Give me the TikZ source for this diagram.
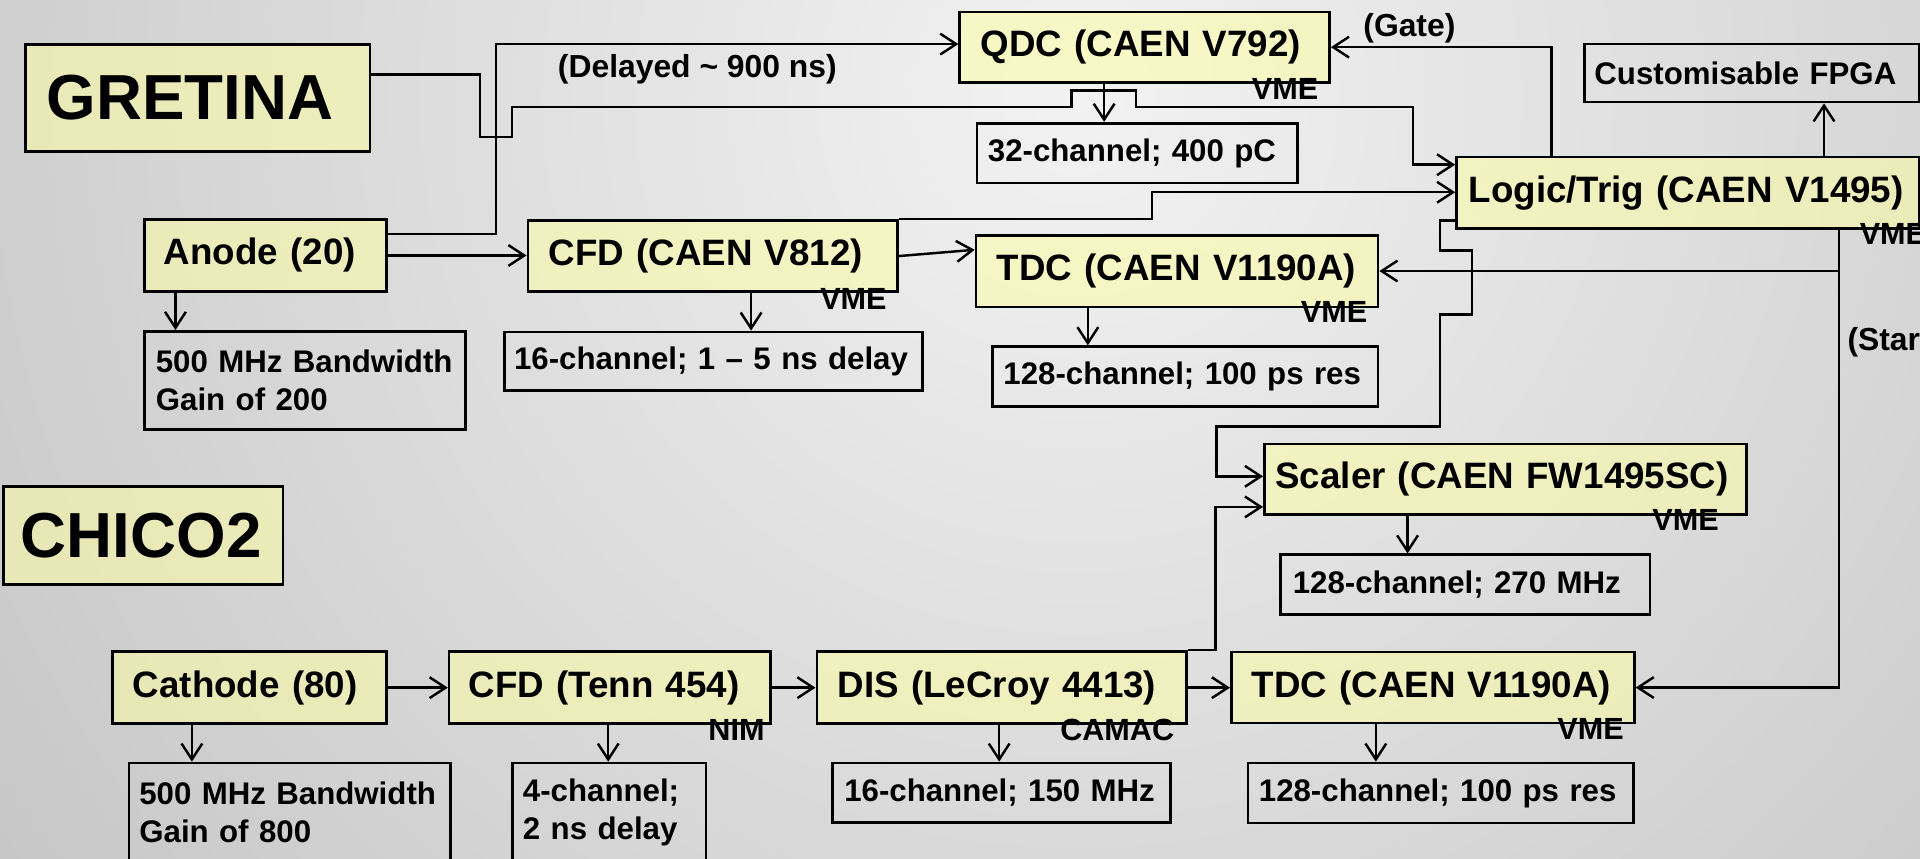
\documentclass[tikz,border=0pt]{standalone}
\usepackage{fontspec}
\setmainfont{Liberation Sans}
\usetikzlibrary{arrows.meta,calc}
\definecolor{bgin}{RGB}{242,242,242}
\definecolor{bgout}{RGB}{166,166,166}
\definecolor{boxfill}{RGB}{255,255,165}
\tikzset{
  mainbox/.style={draw, line width=2.2pt, fill=boxfill, fill opacity=0.55, text opacity=1,
    anchor=north west, align=left, font=\fontsize{30}{36}\selectfont\bfseries, inner ysep=0pt},
  bigbox/.style={mainbox, font=\fontsize{52}{60}\selectfont\bfseries},
  infobox/.style={draw, line width=2.2pt, anchor=north west, align=left,
    font=\fontsize{25.5}{30.8}\selectfont\bfseries, inner ysep=0pt},
  tag/.style={font=\fontsize{25}{30}\selectfont\bfseries, inner sep=0pt},
  note/.style={font=\fontsize{26}{30}\selectfont\bfseries, inner sep=0pt},
  wire/.style={line width=2pt, -{Straight Barb[length=13pt,width=17pt]}},
}
\begin{document}
\begin{tikzpicture}[x=1pt,y=-1pt]
\useasboundingbox (0,0) rectangle (1568,701);
\begin{scope}
\clip (0,0) rectangle (1568,701);
\shade[inner color=bgin, outer color=bgout] (880,80) circle[radius=1900pt];
\end{scope}

% main boxes
\node[bigbox, minimum height=87.5pt, inner xsep=17pt, text width=247pt] (gretina) at (20,35) {GRETINA};
\node[bigbox, minimum height=80pt, inner xsep=14pt, text width=200pt] (chico) at (2,396) {CHICO2};
\node[mainbox, minimum height=58.5pt, inner xsep=16pt, text width=165.6pt] (anode) at (116.7,178.3) {Anode (20)};
\node[mainbox, minimum height=58pt, inner xsep=17pt, text width=268pt] (cfdA) at (430,179) {CFD (CAEN V812)};
\node[mainbox, minimum height=58.5pt, inner xsep=17pt, text width=294.3pt] (tdcA) at (796,191) {TDC (CAEN V1190A)};
\node[mainbox, minimum height=57.4pt, inner xsep=17pt, text width=268pt] (qdc) at (782.7,8.7) {QDC (CAEN V792)};
\node[mainbox, minimum height=58.5pt, inner xsep=10pt, text width=357.6pt] (logic) at (1188.4,127) {Logic/Trig (CAEN V1495)};
\node[mainbox, minimum height=57.5pt, inner xsep=9pt, text width=375.8pt] (scaler) at (1031.5,361.5) {Scaler (CAEN FW1495SC)};
\node[mainbox, minimum height=59pt, inner xsep=16.7pt, text width=190.2pt] (cathode) at (90.7,531) {Cathode (80)};
\node[mainbox, minimum height=59pt, inner xsep=16pt, text width=230.3pt] (cfdB) at (365.7,531) {CFD (Tenn 454)};
\node[mainbox, minimum height=59pt, inner xsep=17pt, text width=267.7pt] (dis) at (666,531) {DIS (LeCroy 4413)};
\node[mainbox, minimum height=58pt, inner xsep=16.5pt, text width=296.1pt] (tdcB) at (1004.5,531.4) {TDC (CAEN V1190A)};

% info boxes
\node[infobox, minimum height=80.3pt, inner xsep=9.5pt, text width=243.6pt] (infoA) at (116.7,269.5) {500 MHz Bandwidth\\Gain of 200};
\node[infobox, minimum height=48pt, inner xsep=8pt, text width=325.3pt] (info16) at (410.7,270) {16-channel; 1 – 5 ns delay};
\node[infobox, minimum height=49pt, inner xsep=9pt, text width=296.9pt] (info128a) at (809.4,282) {128-channel; 100 ps res};
\node[infobox, minimum height=48.8pt, inner xsep=9pt, text width=243.9pt] (info32) at (796.7,99.5) {32-channel; 400 pC};
\node[infobox, minimum height=47.4pt, inner xsep=8pt, text width=257pt] (fpga) at (1293,34.8) {Customisable FPGA};
\node[infobox, minimum height=48.6pt, inner xsep=10pt, text width=281.6pt] (info270) at (1044.7,452) {128-channel; 270 MHz};
\node[infobox, minimum height=48.5pt, inner xsep=9.7pt, text width=256.9pt] (info150) at (678.7,622) {16-channel; 150 MHz};
\node[infobox, minimum height=49pt, inner xsep=9pt, text width=297pt] (info128b) at (1018,622) {128-channel; 100 ps res};
\node[infobox, minimum height=80.5pt, inner xsep=8.4pt, text width=245.6pt] (infoB) at (104.3,622) {500 MHz Bandwidth\\Gain of 800};
\node[infobox, minimum height=80.5pt, inner xsep=8.3pt, text width=141.1pt] (info4) at (417.7,622) {4-channel;\\2 ns delay};

% labels
\node[note] (delayed) at (569.5,56.5) {(Delayed \textasciitilde{} 900 ns)};
\node[note] (gate) at (1151,23) {(Gate)};
\node[note, anchor=west] (start) at (1508.6,279.5) {(Start)};
\node[tag] (vmeQ) at (1049.5,73) {VME};
\node[tag] (vmeC) at (697,244) {VME};
\node[tag] (vmeT) at (1089.5,255) {VME};
\node[tag, anchor=west] (vmeL) at (1518.6,191) {VME};
\node[tag] (vmeS) at (1376.6,425) {VME};
\node[tag] (nim) at (601.5,596) {NIM};
\node[tag] (camac) at (912.4,596) {CAMAC};
\node[tag] (vmeB) at (1299,595) {VME};

% connectors
\draw[wire] ($(gretina.north east)+(0,26)$) -| (392,112) -- (418,112) -- (418,87.5) -- (875,87.5)
  -- (875,74) -- (927.5,74) -- (927.5,87.5) -- (1154,87.5) -- (1154,134.5) -- (1154,134.5 -| logic.west);
\draw[wire] ($(anode.north east)+(0,13)$) -| (405,36) -- (405,36 -| qdc.west);
\draw[wire] (anode.east) -- (anode.east -| cfdA.west);
\draw[wire] (143.3,0 |- anode.south) -- (143.3,0 |- infoA.north);
\draw[wire] (613.4,0 |- cfdA.south) -- (613.4,0 |- info16.north);
\draw[wire] (cfdA.east) -- ($(tdcA.north west)+(0,13)$);
\draw[wire] (cfdA.north east) -| (941,157) -- (941,157 -| logic.west);
\draw[wire] (901.7,0 |- qdc.south) -- (901.7,0 |- info32.north);
\draw[wire] (1267,0 |- logic.north) |- (qdc.east);
\draw[wire] (1489.6,0 |- logic.north) -- (1489.6,0 |- fpga.south);
\draw[wire] (1502,0 |- logic.south) |- (tdcA.east);
\draw[wire] (1502,0 |- logic.south) |- (tdcB.east);
\draw[wire] (logic.west |- 0,180.2) -- (1176,180.2) -- (1176,204.7) -- (1202,204.7) -- (1202,257)
  -- (1176,257) -- (1176,348.4) -- (993.6,348.4) -- (993.6,389) -- (993.6,389 -| scaler.west);
\draw[wire] (dis.north east) -| (992.6,414) -- (992.6,414 -| scaler.west);
\draw[wire] (dis.east) -- (dis.east -| tdcB.west);
\draw[wire] (816,0 |- dis.south) -- (816,0 |- info150.north);
\draw[wire] (1149.5,0 |- scaler.south) -- (1149.5,0 |- info270.north);
\draw[wire] (1123.6,0 |- tdcB.south) -- (1123.6,0 |- info128b.north);
\draw[wire] (cathode.east) -- (cathode.east -| cfdB.west);
\draw[wire] (cfdB.east) -- (cfdB.east -| dis.west);
\draw[wire] (156.7,0 |- cathode.south) -- (156.7,0 |- infoB.north);
\draw[wire] (496.7,0 |- cfdB.south) -- (496.7,0 |- info4.north);
\draw[wire] (888.4,0 |- tdcA.south) -- (888.4,0 |- info128a.north);
\end{tikzpicture}
\end{document}
